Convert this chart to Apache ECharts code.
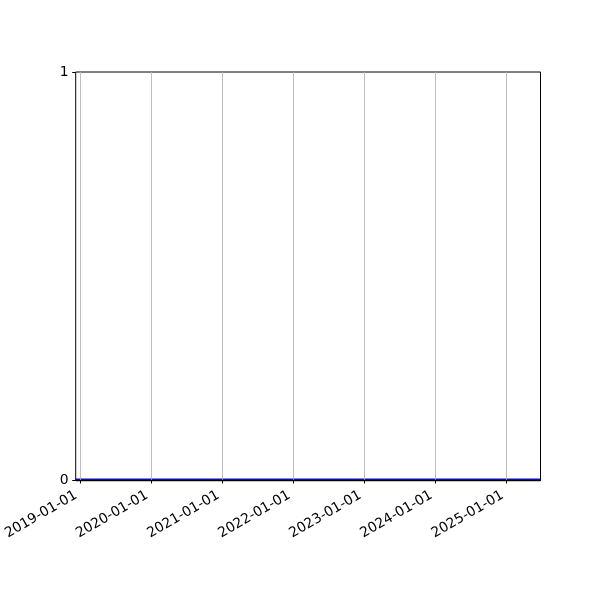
<!DOCTYPE html>
<html>
<head>
<meta charset="utf-8">
<script src="https://cdn.jsdelivr.net/npm/echarts@6/dist/echarts.min.js"></script>
<style>html,body{margin:0;padding:0;background:#fff;}#c{width:600px;height:600px;}</style>
</head>
<body>
<div id="c"></div>
<script>
const dates = ['2018-12-10', '2019-06-01', '2020-06-01', '2021-06-01', '2022-06-01', '2023-06-01', '2024-06-01', '2025-06-24'];
const values = [0, 0, 0, 0, 0, 0, 0, 0];
const xTickLabels = ['2019-01-01', '2020-01-01', '2021-01-01', '2022-01-01', '2023-01-01', '2024-01-01', '2025-01-01'];
const yTicks = [0, 1];
const xMin = '2018-12-10';
const xMax = '2025-06-24';

const ts = s => Date.parse(s + 'T00:00:00Z');
const xTickValues = xTickLabels.map(ts);
const fmt = v => {
  const d = new Date(v);
  const p = n => String(n).padStart(2, '0');
  return d.getUTCFullYear() + '-' + p(d.getUTCMonth() + 1) + '-' + p(d.getUTCDate());
};

const chart = echarts.init(document.getElementById('c'), null, {renderer: 'canvas'});
chart.setOption({
  animation: false,
  backgroundColor: '#ffffff',
  grid: {left: 75.5, right: 59.5, top: 72, bottom: 120, show: true, borderColor: '#000', borderWidth: 1, containLabel: false},
  xAxis: {
    type: 'value',
    z: 10,
    min: ts(xMin),
    max: ts(xMax),
    axisLine: {show: true, onZero: false, lineStyle: {color: '#000', width: 1}},
    axisTick: {show: true, length: 3.5, lineStyle: {color: '#000'}, customValues: xTickValues},
    axisLabel: {
      customValues: xTickValues,
      formatter: v => fmt(v),
      rotate: 30,
      fontFamily: 'DejaVu Sans',
      fontSize: 13.9,
      color: '#000',
      margin: 12,
      padding: [0, 4.6, 0, 0]
    },
    splitLine: {show: true, lineStyle: {color: '#b0b0b0', width: 0.8}}
  },
  yAxis: {
    type: 'value',
    min: 0,
    max: 1,
    interval: 1,
    axisLine: {show: false},
    axisTick: {show: true, length: 3.5, lineStyle: {color: '#000'}},
    axisLabel: {fontFamily: 'DejaVu Sans', fontSize: 13.9, color: '#000', margin: 7, formatter: v => String(v), customValues: yTicks},
    splitLine: {show: false}
  },
  series: [{
    type: 'line',
    data: dates.map((d, i) => [ts(d), values[i]]),
    showSymbol: false,
    clip: true,
    z: 2,
    lineStyle: {color: '#0000ff', width: 3}
  }]
});
</script>
</body>
</html>
